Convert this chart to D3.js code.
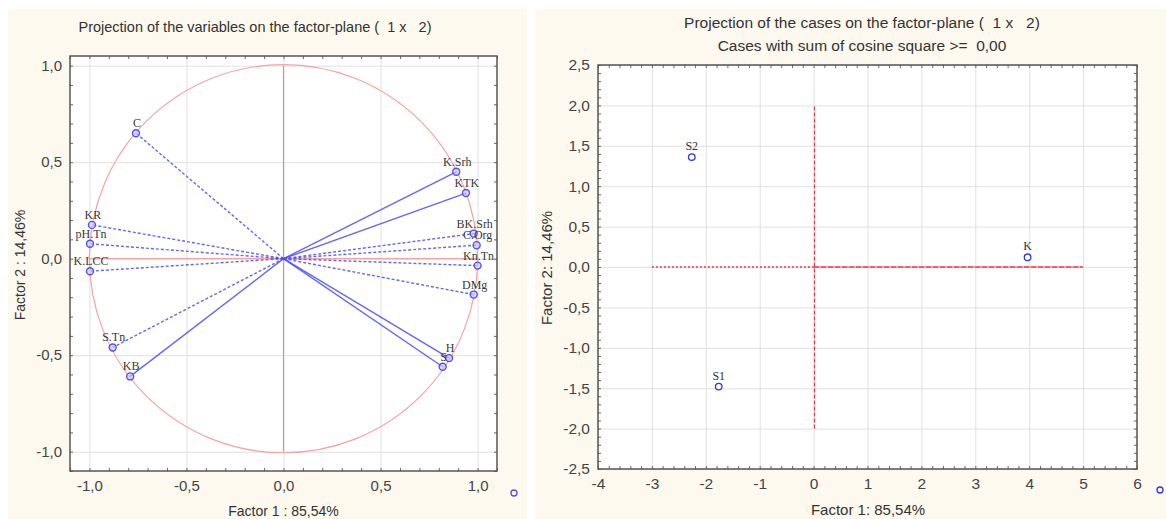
<!DOCTYPE html>
<html>
<head>
<meta charset="utf-8">
<script src="https://cdn.jsdelivr.net/npm/d3@7"></script>
<style>
  body { margin: 0; background: #fff; }
  text { white-space: pre; }
</style>
</head>
<body>
<div id="chart"></div>
<script>
// variables projection (factor loadings)
var varNames = ["C", "K.Srh", "KTK", "BK.Srh", "C.Org", "Kn.Tn", "DMg", "H", "S", "KB", "S.Tn", "K.LCC", "pH.Tn", "KR"];
var varF1 = [-0.76, 0.89, 0.94, 0.98, 0.995, 1.0, 0.98, 0.853, 0.82, -0.79, -0.88, -0.997, -0.997, -0.987];
var varF2 = [0.65, 0.45, 0.34, 0.13, 0.07, -0.036, -0.186, -0.515, -0.56, -0.61, -0.46, -0.065, 0.077, 0.175];
var varLine = ["dash", "solid", "solid", "dash", "dash", "dash", "dash", "solid", "solid", "solid", "dash", "dash", "dash", "dash"];

// cases projection
var caseNames = ["S2", "S1", "K"];
var caseF1 = [-2.26, -1.76, 3.97];
var caseF2 = [1.36, -1.48, 0.12];

var leftMajor = [-1, -0.5, 0, 0.5, 1];
var rightXMajor = [-4, -3, -2, -1, 0, 1, 2, 3, 4, 5, 6];
var rightYMajor = [-2.5, -2, -1.5, -1, -0.5, 0, 0.5, 1, 1.5, 2, 2.5];

var loc = d3.formatLocale({decimal: ",", thousands: ".", grouping: [3], currency: ["", ""], minus: "-"});
var fmt1 = loc.format(".1f");

var W = 1166, H = 519;
var svg = d3.select('#chart').append('svg')
    .attr('width', W).attr('height', H)
    .style('font-family', '"Liberation Sans", Arial, sans-serif');

svg.append('rect').attr('x', 0).attr('y', 0).attr('width', W).attr('height', H).attr('fill', '#fff');
svg.append('rect').attr('x', 8).attr('y', 9).attr('width', 519).attr('height', 510).attr('fill', '#fdf9ee');
svg.append('rect').attr('x', 535).attr('y', 9).attr('width', 631).attr('height', 510).attr('fill', '#fdf9ee');

function frame(g, x, y, xMajor, yMajor, xMinorStep, yMinorStep, fontSize) {
    var x0 = x.range()[0], x1 = x.range()[1];
    var y0 = y.range()[0], y1 = y.range()[1];
    var w = x1 - x0, h = y0 - y1;
    g.append('rect').attr('x', x0).attr('y', y1).attr('width', w).attr('height', h).attr('fill', '#fff');

    // grid
    g.append('g').attr('transform', 'translate(0,' + y0 + ')')
        .call(d3.axisBottom(x).tickValues(xMajor).tickSize(-h).tickFormat(''))
        .call(function(s) { s.select('.domain').remove(); s.selectAll('line').attr('stroke', '#e0e0e0'); });
    g.append('g').attr('transform', 'translate(' + x0 + ',0)')
        .call(d3.axisLeft(y).tickValues(yMajor).tickSize(-w).tickFormat(''))
        .call(function(s) { s.select('.domain').remove(); s.selectAll('line').attr('stroke', '#e0e0e0'); });

    var xd = x.domain(), yd = y.domain();
    var xMinor = d3.range(Math.ceil(xd[0] / xMinorStep - 1e-6), Math.floor(xd[1] / xMinorStep + 1e-6) + 1).map(function(i) { return +(i * xMinorStep).toFixed(4); });
    var yMinor = d3.range(Math.ceil(yd[0] / yMinorStep - 1e-6), Math.floor(yd[1] / yMinorStep + 1e-6) + 1).map(function(i) { return +(i * yMinorStep).toFixed(4); });

    function ticks(s) { s.select('.domain').remove(); s.selectAll('line').attr('stroke', '#666'); }
    g.append('g').attr('transform', 'translate(0,' + y0 + ')').call(d3.axisBottom(x).tickValues(xMinor).tickSize(-3).tickFormat('')).call(ticks);
    g.append('g').attr('transform', 'translate(0,' + y1 + ')').call(d3.axisTop(x).tickValues(xMinor).tickSize(-3).tickFormat('')).call(ticks);
    g.append('g').attr('transform', 'translate(' + x0 + ',0)').call(d3.axisLeft(y).tickValues(yMinor).tickSize(-3).tickFormat('')).call(ticks);
    g.append('g').attr('transform', 'translate(' + x1 + ',0)').call(d3.axisRight(y).tickValues(yMinor).tickSize(-3).tickFormat('')).call(ticks);

    g.append('rect').attr('x', x0).attr('y', y1).attr('width', w).attr('height', h)
        .attr('fill', 'none').attr('stroke', '#555').attr('stroke-width', 1.5);

    // labels
    function lab(s) {
        s.select('.domain').remove();
        s.selectAll('text').attr('fill', '#444').style('font-size', fontSize + 'px').style('font-family', '"Liberation Sans", Arial, sans-serif');
    }
    g.append('g').attr('transform', 'translate(0,' + y0 + ')')
        .call(d3.axisBottom(x).tickValues(xMajor).tickSize(0).tickPadding(9).tickFormat(function(d) { return Number.isInteger(d) && xMinorStep > 0.15 ? loc.format('d')(d) : fmt1(d); }))
        .call(lab);
    g.append('g').attr('transform', 'translate(' + x0 + ',0)')
        .call(d3.axisLeft(y).tickValues(yMajor).tickSize(0).tickPadding(8).tickFormat(fmt1))
        .call(lab);
}

// ---------- left chart: variables ----------
var xL = d3.scaleLinear().domain([-1.1, 1.1]).range([70, 497]);
var yL = d3.scaleLinear().domain([-1.1, 1.05]).range([471, 56]);
var gL = svg.append('g');
frame(gL, xL, yL, leftMajor, leftMajor, 0.1, 0.1, 15);

var red = '#f4a3a3';
gL.append('circle').attr('cx', xL(0)).attr('cy', yL(0))
    .attr('r', xL(1) - xL(0)).attr('fill', 'none').attr('stroke', red).attr('stroke-width', 1.2);
gL.append('line').attr('x1', xL(0)).attr('x2', xL(0)).attr('y1', yL(-1)).attr('y2', yL(1)).attr('stroke', '#f08c8c').attr('stroke-width', 1.2);
gL.append('line').attr('x1', xL(-1)).attr('x2', xL(1)).attr('y1', yL(0)).attr('y2', yL(0)).attr('stroke', red).attr('stroke-width', 1.2);

var vars = varNames.map(function(n, i) { return {name: n, f1: varF1[i], f2: varF2[i], line: varLine[i]}; });

gL.selectAll('.vline').data(vars).enter().append('line')
    .attr('x1', xL(0)).attr('y1', yL(0))
    .attr('x2', function(d) { return xL(d.f1); })
    .attr('y2', function(d) { return yL(d.f2); })
    .attr('stroke', '#4b4bf5').attr('stroke-opacity', 0.85).attr('stroke-width', 1.4)
    .attr('stroke-dasharray', function(d) { return d.line == 'dash' ? '3,2' : null; });

gL.selectAll('.vpt').data(vars).enter().append('circle')
    .attr('cx', function(d) { return xL(d.f1); })
    .attr('cy', function(d) { return yL(d.f2); })
    .attr('r', 3.5).attr('fill', '#c8c8ff').attr('fill-opacity', 0.6)
    .attr('stroke', '#5050f0').attr('stroke-width', 1.4);

gL.selectAll('.vlab').data(vars).enter().append('text')
    .attr('x', function(d) { return xL(d.f1) + 1; })
    .attr('y', function(d) { return yL(d.f2) - 6; })
    .attr('text-anchor', 'middle')
    .style('font-family', '"Liberation Serif", "Times New Roman", serif')
    .style('font-size', '12px').attr('fill', '#3a3a3a')
    .text(function(d) { return d.name; });

gL.append('circle').attr('cx', xL.range()[1] + 17).attr('cy', yL.range()[0] + 22)
    .attr('r', 3).attr('fill', 'none').attr('stroke', '#5050f0').attr('stroke-width', 1.3);

gL.append('text').attr('x', 255).attr('y', 32).attr('text-anchor', 'middle')
    .style('font-size', '14.5px').attr('fill', '#333')
    .text('Projection of the variables on the factor-plane (  1 x   2)');
gL.append('text').attr('x', xL(0)).attr('y', 516).attr('text-anchor', 'middle')
    .style('font-size', '14px').attr('fill', '#333')
    .text('Factor 1 : 85,54%');
gL.append('text').attr('transform', 'translate(25,' + 265 + ') rotate(-90)').attr('text-anchor', 'middle')
    .style('font-size', '14px').attr('fill', '#333')
    .text('Factor 2 : 14,46%');

// ---------- right chart: cases ----------
var xR = d3.scaleLinear().domain([-4, 6]).range([598, 1137]);
var yR = d3.scaleLinear().domain([-2.5, 2.5]).range([469, 65]);
var gR = svg.append('g');
frame(gR, xR, yR, rightXMajor, rightYMajor, 0.2, 0.1, 15.5);

var red2 = '#f03040';
var zx = Math.round(xR(0)) + 0.5;
gR.append('line').attr('x1', zx).attr('x2', zx).attr('y1', yR(-2)).attr('y2', yR(2))
    .attr('stroke', red2).attr('stroke-width', 1.2).attr('stroke-dasharray', '4,2');
gR.append('line').attr('x1', xR(-3)).attr('x2', xR(0)).attr('y1', yR(0)).attr('y2', yR(0))
    .attr('stroke', red2).attr('stroke-width', 1.4).attr('stroke-dasharray', '2,2');
gR.append('line').attr('x1', xR(0)).attr('x2', xR(5)).attr('y1', yR(0)).attr('y2', yR(0))
    .attr('stroke', red2).attr('stroke-width', 1.4).attr('stroke-dasharray', '6,1');

var cases = caseNames.map(function(n, i) { return {name: n, f1: caseF1[i], f2: caseF2[i]}; });
gR.selectAll('.cpt').data(cases).enter().append('circle')
    .attr('cx', function(d) { return xR(d.f1); })
    .attr('cy', function(d) { return yR(d.f2); })
    .attr('r', 3.3).attr('fill', '#fff').attr('stroke', '#3333ee').attr('stroke-width', 1.3);
gR.selectAll('.clab').data(cases).enter().append('text')
    .attr('x', function(d) { return xR(d.f1); })
    .attr('y', function(d) { return yR(d.f2) - 7; })
    .attr('text-anchor', 'middle')
    .style('font-family', '"Liberation Serif", "Times New Roman", serif')
    .style('font-size', '12px').attr('fill', '#333')
    .text(function(d) { return d.name; });

gR.append('circle').attr('cx', xR.range()[1] + 23).attr('cy', yR.range()[0] + 21)
    .attr('r', 3).attr('fill', 'none').attr('stroke', '#3333ee').attr('stroke-width', 1.3);

gR.append('text').attr('x', 862).attr('y', 28).attr('text-anchor', 'middle')
    .style('font-size', '15.5px').attr('fill', '#333')
    .text('Projection of the cases on the factor-plane (  1 x   2)');
gR.append('text').attr('x', 862).attr('y', 51).attr('text-anchor', 'middle')
    .style('font-size', '15.5px').attr('fill', '#333')
    .text('Cases with sum of cosine square >=  0,00');
gR.append('text').attr('x', 868).attr('y', 515).attr('text-anchor', 'middle')
    .style('font-size', '15px').attr('fill', '#333')
    .text('Factor 1: 85,54%');
gR.append('text').attr('transform', 'translate(552,' + 268 + ') rotate(-90)').attr('text-anchor', 'middle')
    .style('font-size', '15px').attr('fill', '#333')
    .text('Factor 2: 14,46%');
</script>
</body>
</html>
